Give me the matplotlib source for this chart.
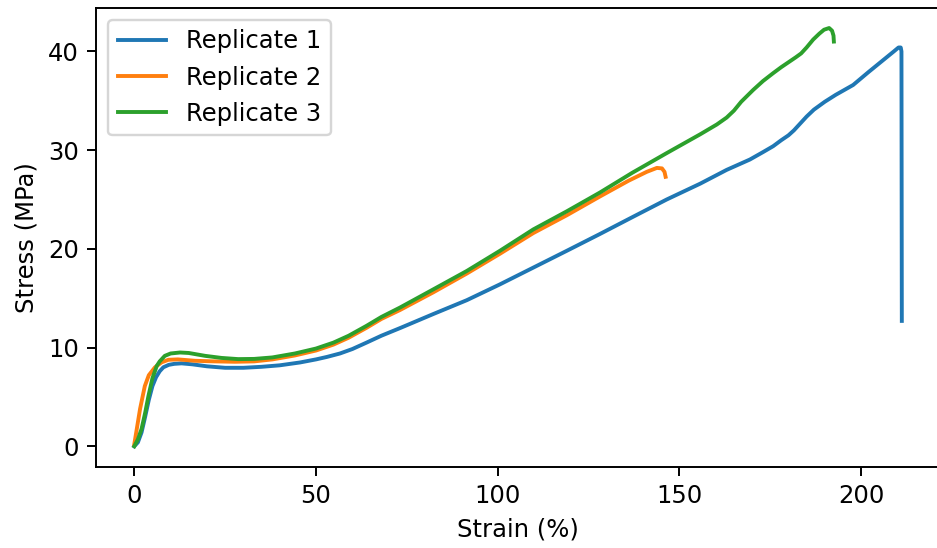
import matplotlib
matplotlib.use("Agg")
import matplotlib.pyplot as plt

# Stress-strain curves for three tensile replicates
strain_1 = [0, 1, 2, 3, 4, 5, 6, 7, 8, 9.5, 11, 13, 16, 20, 25, 30, 35, 40, 45.6, 50,
            53, 56.6, 60, 63.9, 68, 73.3, 82.3, 91.5, 100.6, 109.8, 119, 128.1, 137,
            146.5, 155.7, 163, 169.4, 173, 175.8, 178, 180, 181.5, 183.5, 185, 187, 190,
            193, 197.8, 202, 206, 209, 210.3, 210.9, 211.1, 211.2]
stress_1 = [0, 0.4, 1.4, 3.0, 4.7, 6.1, 7.0, 7.6, 8.0, 8.25, 8.35, 8.4, 8.3, 8.1, 7.95,
            7.95, 8.05, 8.2, 8.49, 8.8, 9.05, 9.4, 9.85, 10.5, 11.2, 12.0, 13.4, 14.8,
            16.4, 18.1, 19.8, 21.5, 23.2, 25.0, 26.6, 28.0, 29.05, 29.8, 30.4, 31.0,
            31.5, 32.0, 32.8, 33.4, 34.1, 34.9, 35.6, 36.6, 37.9, 39.1, 40.0, 40.4,
            40.4, 40.0, 12.7]

strain_2 = [0, 0.8, 1.6, 2.9, 4, 5.7, 7.5, 9.4, 12, 16.7, 22, 27.7, 33, 38, 44.2, 50,
            54.8, 59, 63.9, 68, 73.1, 82.3, 91.5, 100.6, 109.8, 119, 128.1, 136, 141,
            143.8, 145.2, 145.9, 146.2]
stress_2 = [0.2, 2.0, 3.8, 6.1, 7.2, 8.0, 8.5, 8.76, 8.8, 8.66, 8.6, 8.56, 8.6, 8.8,
            9.2, 9.7, 10.3, 11.0, 12.0, 12.9, 13.8, 15.6, 17.5, 19.5, 21.6, 23.4, 25.3,
            26.9, 27.8, 28.2, 28.15, 27.8, 27.3]

strain_3 = [0, 1, 2, 3, 3.9, 5, 6.2, 7, 8.4, 10, 12.6, 15, 19.5, 24, 28.6, 33, 38, 44.2,
            50, 54.8, 59, 63.9, 68, 73.1, 82.3, 91.5, 100.6, 109.8, 119, 128.1, 137,
            146.5, 155.7, 160.3, 163, 165, 167, 170.3, 173, 175.8, 178, 180, 182,
            183.5, 185, 186.8, 188.5, 189.8, 191.2, 192.0, 192.4, 192.5]
stress_3 = [0, 0.7, 1.75, 3.4, 5.1, 6.9, 8.15, 8.6, 9.16, 9.4, 9.5, 9.45, 9.16, 8.95,
            8.83, 8.85, 9.0, 9.4, 9.9, 10.5, 11.2, 12.2, 13.1, 14.05, 15.9, 17.76, 19.8,
            21.97, 23.8, 25.7, 27.7, 29.7, 31.6, 32.6, 33.3, 34.0, 34.9, 36.1, 37.0,
            37.8, 38.4, 38.9, 39.4, 39.8, 40.4, 41.2, 41.8, 42.2, 42.37, 42.1, 41.6,
            41.0]

labels = ["Replicate 1", "Replicate 2", "Replicate 3"]

dpi = 175
fig = plt.figure(figsize=(937 / dpi, 548 / dpi), dpi=dpi)
ax = fig.add_axes([95.9 / 937, 1 - 467 / 548, (940.2 - 95.9) / 937, (467 - 7.5) / 548])

ax.plot(strain_1, stress_1, label=labels[0], lw=1.6)
ax.plot(strain_2, stress_2, label=labels[1], lw=1.6)
ax.plot(strain_3, stress_3, label=labels[2], lw=1.6)

ax.set_xlim(-10.56, 221.76)
ax.set_ylim(-2.1, 44.45)
ax.set_xlabel("Strain (%)")
ax.set_ylabel("Stress (MPa)")
ax.legend(loc="upper left")

fig.savefig("out.png", dpi=dpi)
